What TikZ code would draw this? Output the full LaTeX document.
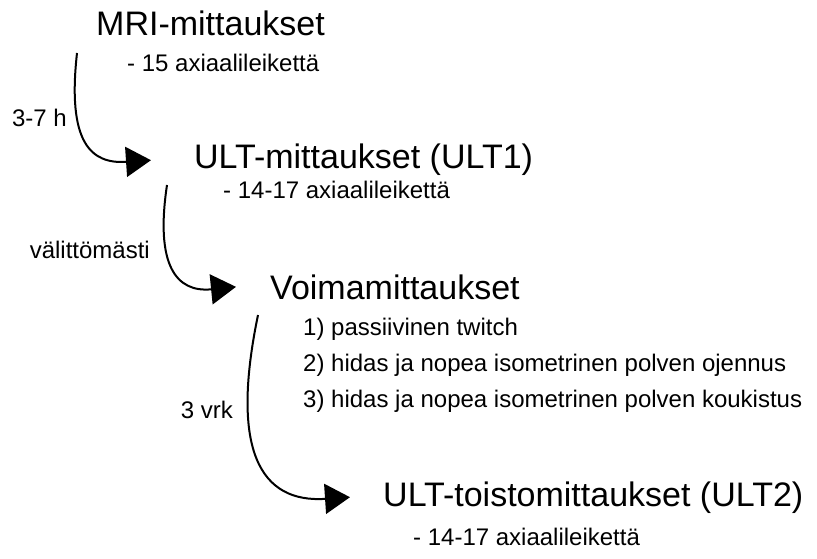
\documentclass[tikz,border=0pt]{standalone}
\usepackage{fontspec}
\setmainfont{Liberation Sans}
\usetikzlibrary{arrows.meta, calc}

\begin{document}
\begin{tikzpicture}[
    x=1pt, y=1pt,
    > = {Triangle[length=25pt, width=30pt]},
    head/.style={anchor=base west, inner sep=0pt, font=\fontsize{34}{40}\selectfont},
    sub/.style={anchor=base west, inner sep=0pt, font=\fontsize{24}{28}\selectfont},
    gap/.style={anchor=base east, inner sep=0pt, font=\fontsize{24}{28}\selectfont},
    flow/.style={->, line width=2pt}
]
    \useasboundingbox (0,0) rectangle (817,-559);

    % Measurement steps
    \node[head] (mri) at (96,-36) {MRI-mittaukset};
    \node[sub] (mrisub) at (127,-72) {- 15 axiaalileikettä};

    \node[head] (ult1) at (194,-169) {ULT-mittaukset (ULT1)};
    \node[sub] (ult1sub) at (223,-198) {- 14-17 axiaalileikettä};

    \node[head] (voima) at (270,-299) {Voimamittaukset};
    \node[sub] (item1) at (303,-335) {1) passiivinen twitch};
    \node[sub] (item2) at (303,-371) {2) hidas ja nopea isometrinen polven ojennus};
    \node[sub] (item3) at (303,-407) {3) hidas ja nopea isometrinen polven koukistus};

    \node[head] (ult2) at (383,-506) {ULT-toistomittaukset (ULT2)};
    \node[sub] (ult2sub) at (413,-545) {- 14-17 axiaalileikettä};

    % Time between the steps
    \node[gap] (t1) at (67,-127) {3-7 h};
    \node[gap] (t2) at (150,-258) {välittömästi};
    \node[gap] (t3) at (233,-418) {3 vrk};

    % Arrows
    \coordinate (s1) at (77,-53);
    \coordinate (s2) at (167,-185);
    \coordinate (s3) at (258,-315);

    \draw[flow] (s1) .. controls +(-10,-90) and +(-60,-4) .. ([xshift=-43pt]ult1.west);
    \draw[flow] (s2) .. controls +(-12,-80) and +(-60,-6) .. ([xshift=-34pt]voima.west);
    \draw[flow] (s3) .. controls +(-28,-135) and +(-90,-6) .. ([xshift=-33pt]ult2.west);
\end{tikzpicture}
\end{document}
